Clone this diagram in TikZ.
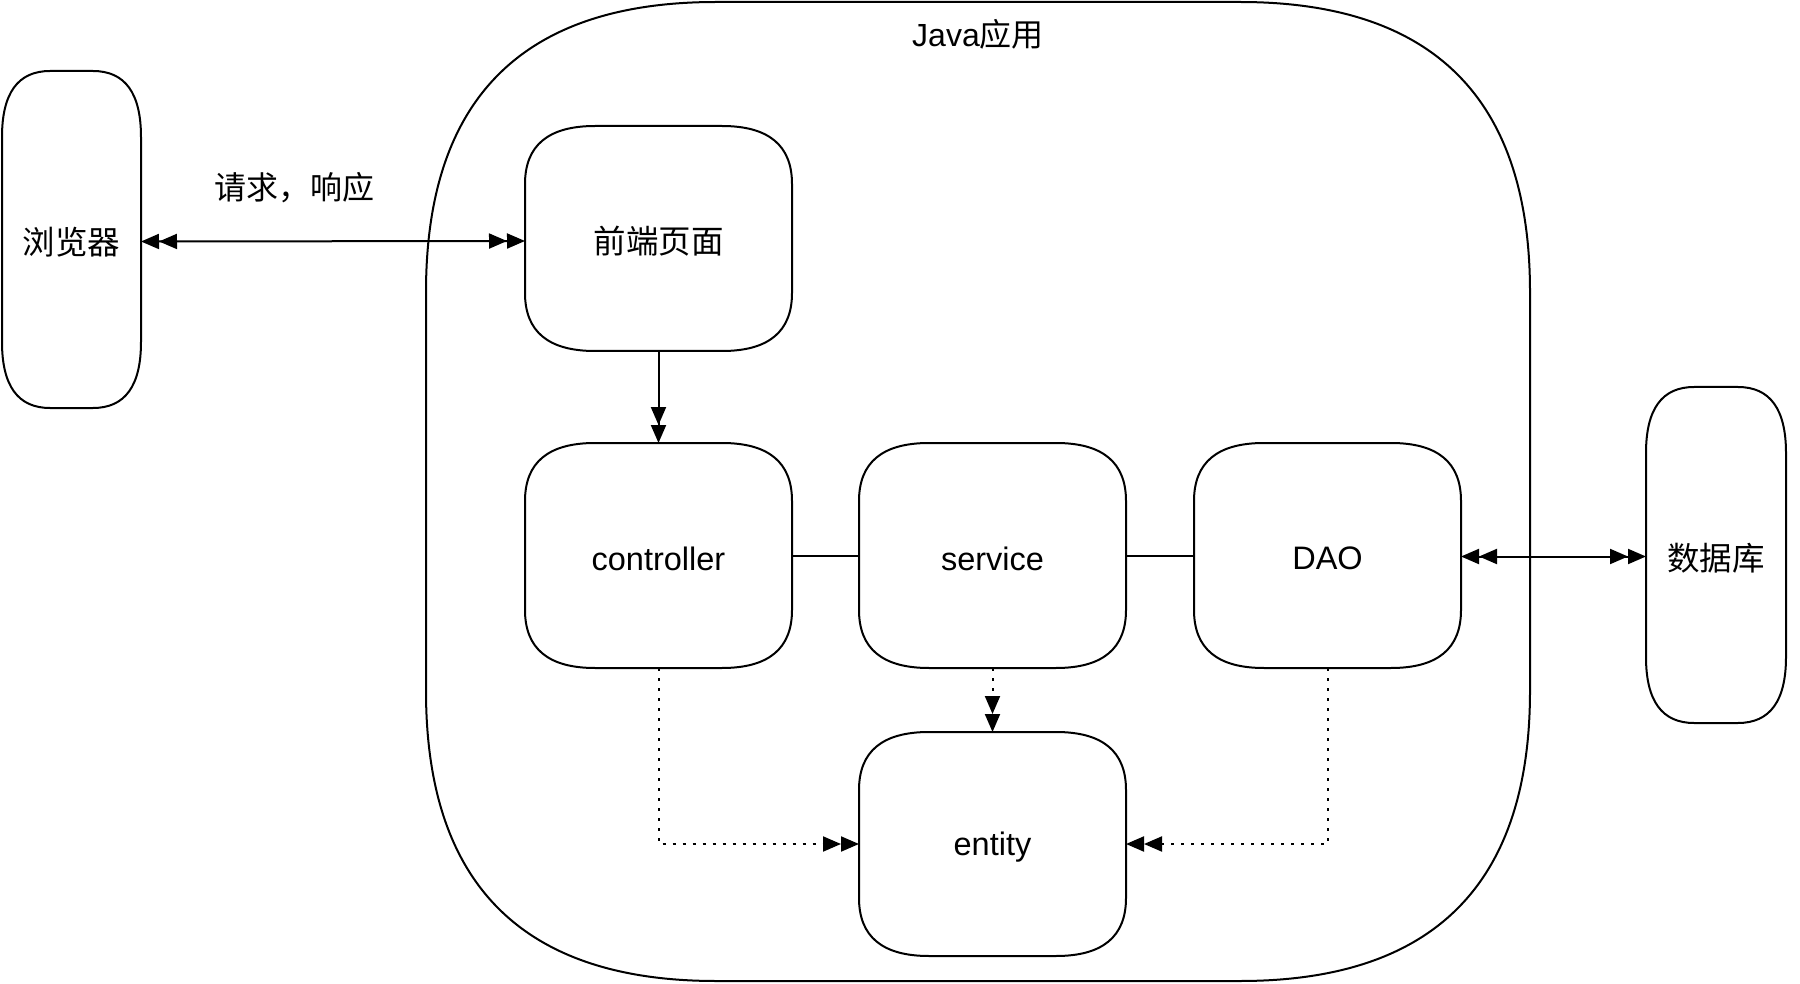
\documentclass[tikz,border=0pt]{standalone}
\usepackage{fontspec}
\setmainfont{Liberation Sans}
\newfontfamily\cjk{Noto Sans CJK SC}
\usetikzlibrary{arrows.meta}

\tikzset{
  boxline/.style={line width=2pt},
  boxnode/.style={rectangle, inner sep=0pt, outer sep=0pt, font=\fontsize{32.5pt}{38pt}\selectfont},
  lbl/.style={inner sep=0pt, font=\fontsize{32pt}{38pt}\selectfont},
  conn/.style={line width=2pt},
  dotconn/.style={line width=2pt, dash pattern=on 3pt off 7pt},
  >={Triangle[length=18pt,width=15pt]},
}

\newcommand\rrbox[8]{%
  \node[boxnode, minimum width={(#4-#2)*1pt}, minimum height={(#5-#3)*1pt}] (#1) at ({(#2+#4)/2},{(#3+#5)/2}) {\raisebox{-3pt}[\height][\depth]{#8}};
  \draw[boxline] ({#2+#6},#3) -- ({#4-#6},#3)
    .. controls +({2/3*#6},0) and +(0,{-2/3*#7}) .. (#4,{#3+#7}) -- (#4,{#5-#7})
    .. controls +(0,{2/3*#7}) and +({2/3*#6},0) .. ({#4-#6},#5) -- ({#2+#6},#5)
    .. controls +({-2/3*#6},0) and +(0,{2/3*#7}) .. (#2,{#5-#7}) -- (#2,{#3+#7})
    .. controls +(0,{-2/3*#7}) and +({-2/3*#6},0) .. ({#2+#6},#3) -- cycle;
}

\begin{document}
\begin{tikzpicture}[x=1pt,y=-1pt]
\useasboundingbox (0,0) rectangle (1800,984);

% Java container
\rrbox{java}{426}{2}{1530}{981}{290}{290}{}
\node[lbl] (javalbl) at (978,34) {Java{\cjk 应用}};

% outer actors
\rrbox{browser}{2}{71}{141}{408}{48}{66}{{\cjk 浏览器}}
\rrbox{db}{1646}{387}{1786}{723}{48}{66}{{\cjk 数据库}}

% inner boxes
\rrbox{front}{525}{126}{792}{351}{70}{58}{{\cjk 前端页面}}
\rrbox{ctrl}{525}{443}{792}{668}{70}{58}{controller}
\rrbox{service}{859}{443}{1126}{668}{70}{58}{service}
\rrbox{dao}{1194}{443}{1461}{668}{70}{58}{DAO}
\rrbox{entity}{859}{732}{1126}{956}{70}{58}{entity}

% label
\node[lbl] (reqlbl) at (294,188) {\cjk 请求，响应};

% connectors
\draw[conn,<<->>] ([yshift=-2pt]browser.east) -- ([yshift=-2.5pt]front.west);
\draw[conn,->>] (front) -- (ctrl);
\draw[conn] (ctrl) -- (service);
\draw[conn] (service) -- (dao);
\draw[conn,<<->>] ([yshift=-1pt]dao.east) -- ([yshift=-1.5pt]db.west);
\draw[dotconn,->>] (service) -- (entity);
\draw[dotconn,->>] (ctrl.south) |- (entity.west);
\draw[dotconn,->>] (dao.south) |- (entity.east);
\end{tikzpicture}
\end{document}
